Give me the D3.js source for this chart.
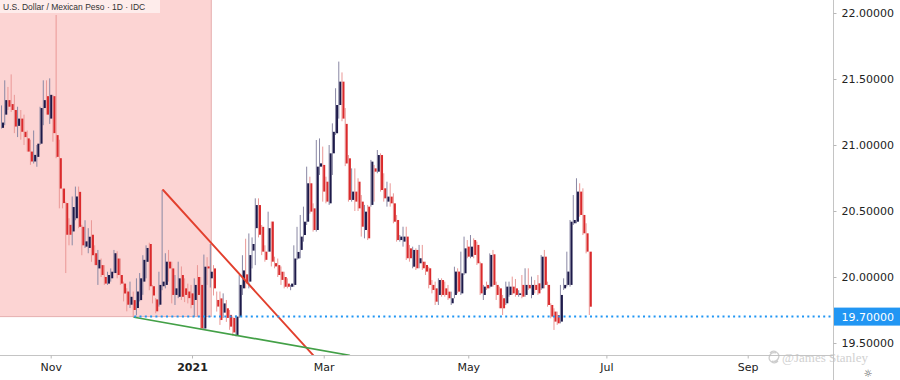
<!DOCTYPE html>
<html><head><meta charset="utf-8">
<script src="https://cdn.jsdelivr.net/npm/d3@7"></script>
<style>html,body{margin:0;padding:0;background:#fff;overflow:hidden}</style>
</head><body>
<svg id="c" width="900" height="380"></svg>
<script>
// ---------------- DATA ----------------
const title = "U.S. Dollar / Mexican Peso · 1D · IDC";
const firstDate = "2020-10-12";   // first daily bar (weekdays only)
const lastAxisDate = "2021-09-30";

const open = [21.13,21.23,21.34,21.31,21.265,21.145,21.20,21.10,21.05,20.95,
20.875,20.91,21.01,21.28,21.37,21.20,21.37,21.075,20.90,20.67,
20.56,20.395,20.345,20.445,20.645,20.38,20.23,20.22,20.32,20.18,
20.065,20.09,20.00,19.95,19.99,20.03,20.14,20.015,19.95,19.89,
19.79,19.825,19.765,19.825,19.965,20.115,20.25,19.93,19.83,19.79,
19.93,19.94,20.116,20.065,19.864,19.85,20.015,19.914,19.89,19.876,
19.826,20.00,19.94,19.61,20.08,19.99,20.065,19.826,19.838,19.73,
19.763,19.713,19.69,19.56,19.70,19.914,20.02,19.965,20.20,20.37,
20.545,20.38,20.192,20.192,20.42,20.105,20.09,20.04,20.00,19.95,
19.926,19.94,20.14,20.205,20.318,20.419,20.71,20.52,20.356,20.836,
20.849,20.722,20.558,20.937,21.089,21.303,21.48,21.16,20.899,20.584,
20.647,20.722,20.571,20.356,20.533,20.546,20.823,20.798,20.924,20.672,
20.571,20.609,20.558,20.432,20.28,20.268,20.306,20.217,20.078,20.205,
20.104,20.116,20.091,20.066,19.94,19.914,19.864,19.977,19.914,19.889,
19.801,19.864,20.041,19.876,20.028,20.23,20.154,20.28,20.243,20.104,
19.864,19.94,19.927,20.172,19.94,19.914,19.839,19.801,19.864,19.927,
19.914,19.864,19.94,19.864,19.94,19.864,19.94,19.952,19.914,20.154,
19.94,19.788,19.738,19.712,19.662,19.914,19.94,19.94,20.407,20.419,
20.647,20.47,20.331,20.192];
const high = [21.30,21.49,21.44,21.535,21.38,21.29,21.265,21.23,21.11,21.04,
21.11,21.00,21.29,21.49,21.49,21.505,21.38,21.985,21.04,20.67,
20.57,20.445,20.61,20.685,20.685,20.395,20.43,20.37,20.43,20.24,
20.205,20.14,20.09,20.04,20.065,20.205,20.195,20.14,19.965,19.915,
19.965,19.89,19.99,20.03,20.165,20.24,20.26,19.94,19.84,20.04,
20.659,20.18,20.205,20.116,20.015,20.116,20.08,19.99,19.95,19.94,
19.99,20.09,20.00,20.17,20.15,20.25,20.09,19.89,19.89,19.876,
19.826,19.75,19.70,19.71,20.015,20.165,20.29,20.33,20.30,20.596,
20.596,20.394,20.24,20.495,20.42,20.154,20.14,20.08,20.04,19.99,
19.94,20.24,20.38,20.47,20.533,20.836,20.76,20.558,21.038,21.05,
20.988,20.76,21.00,21.164,21.43,21.632,21.55,21.28,20.924,20.823,
20.823,20.748,20.621,20.546,20.546,20.887,20.849,20.962,20.937,20.786,
20.722,20.71,20.634,20.47,20.318,20.381,20.381,20.243,20.23,20.217,
20.243,20.243,20.116,20.078,19.977,19.965,19.99,19.99,19.965,19.94,
19.889,20.078,20.066,20.192,20.306,20.28,20.318,20.293,20.268,20.116,
19.94,19.965,20.179,20.205,19.965,19.927,19.864,19.965,19.965,20.003,
19.985,19.90,20.015,20.066,20.066,20.003,19.977,20.015,20.167,20.205,
19.965,19.801,19.763,19.738,19.94,19.99,20.192,20.432,20.621,20.748,
20.71,20.672,20.407,20.192];
const low = [21.125,21.15,21.265,21.25,21.09,21.06,21.04,21.00,20.95,20.85,
20.86,20.835,21.00,21.15,21.23,21.16,21.025,20.90,20.52,20.52,
20.03,20.24,20.24,20.43,20.37,20.165,20.22,20.18,20.115,20.09,
19.94,20.00,19.94,19.94,19.965,20.03,19.99,19.94,19.815,19.74,
19.765,19.695,19.71,19.815,19.865,19.99,19.90,19.80,19.725,19.776,
19.90,19.914,19.965,19.80,19.788,19.84,19.826,19.81,19.80,19.763,
19.70,19.70,19.60,19.60,19.94,19.92,19.86,19.738,19.637,19.69,
19.66,19.60,19.555,19.55,19.69,19.864,19.914,19.914,20.065,20.09,
20.30,20.166,20.116,20.192,20.08,20.066,20.00,19.94,19.914,19.914,
19.90,19.926,20.13,20.142,20.268,20.394,20.48,20.344,20.344,20.773,
20.571,20.558,20.546,20.773,21.076,21.20,21.18,20.84,20.571,20.571,
20.50,20.50,20.306,20.293,20.28,20.533,20.571,20.786,20.647,20.571,
20.533,20.533,20.407,20.268,20.268,20.23,20.129,20.116,20.066,20.053,
20.066,20.053,20.015,19.914,19.876,19.788,19.788,19.851,19.851,19.826,
19.788,19.839,19.876,19.864,20.015,20.142,20.142,20.142,20.091,19.864,
19.826,19.902,19.914,19.927,19.826,19.763,19.712,19.788,19.851,19.864,
19.851,19.85,19.839,19.851,19.902,19.839,19.876,19.864,19.902,19.914,
19.775,19.687,19.599,19.637,19.649,19.902,19.927,19.927,20.394,20.407,
20.457,20.318,20.179,19.712];
const close = [21.17,21.34,21.29,21.265,21.14,21.20,21.10,21.06,20.95,20.875,
20.925,21.01,21.28,21.34,21.23,21.38,21.09,20.91,20.67,20.56,
20.32,20.32,20.53,20.61,20.38,20.24,20.27,20.305,20.165,20.09,
20.13,20.015,19.95,20.015,20.04,20.18,20.015,19.95,19.875,19.79,
19.85,19.75,19.89,19.99,20.13,20.22,19.93,19.86,19.74,19.94,
19.965,20.116,20.065,19.864,19.914,19.99,19.85,19.864,19.84,19.788,
19.94,19.864,19.61,20.078,20.065,20.04,19.914,19.776,19.674,19.80,
19.69,19.624,19.58,19.70,19.94,20.05,19.952,20.166,20.25,20.545,
20.32,20.192,20.13,20.37,20.116,20.08,20.015,19.978,19.926,19.926,
19.95,20.14,20.19,20.306,20.419,20.71,20.495,20.356,20.836,20.861,
20.647,20.571,20.937,21.10,21.303,21.48,21.20,20.86,20.584,20.647,
20.571,20.52,20.381,20.495,20.293,20.874,20.798,20.924,20.659,20.596,
20.609,20.558,20.419,20.28,20.306,20.306,20.142,20.142,20.205,20.066,
20.142,20.066,20.041,19.94,19.902,19.813,19.977,19.864,19.864,19.839,
19.839,20.041,19.889,20.028,20.217,20.154,20.23,20.167,20.104,19.876,
19.927,19.914,20.167,19.94,19.864,19.763,19.763,19.927,19.927,19.876,
19.864,19.876,19.851,19.94,19.914,19.94,19.902,19.876,20.154,19.94,
19.788,19.70,19.662,19.649,19.864,19.94,20.041,20.419,20.432,20.647,
20.47,20.331,20.192,19.775];

const tickDates  = ["2020-11-02","2021-01-01","2021-03-01","2021-05-03","2021-07-01","2021-09-01"];
const tickLabels = ["Nov","2021","Mar","May","Jul","Sep"];
const boldTicks  = ["2021"];
const priceTicks = [19.5, 20.0, 20.5, 21.0, 21.5, 22.0];
const supportLevel = 19.70;
const supportStart = "2020-12-08";
const shadeEnd = "2021-01-11";
const redTrend   = [["2020-12-21", 20.659], ["2021-02-24", 19.40]];
const greenTrend = [["2020-12-08", 19.695], ["2021-03-11", 19.407]];
const watermark = "@James Stanley";

// ---------------- LAYOUT ----------------
const W = 900, H = 380, plotR = 833, plotB = 355;
const fmt = d3.timeFormat("%Y-%m-%d");
const parse = d3.timeParse("%Y-%m-%d");
const days = d3.timeDay.range(parse(firstDate), d3.timeDay.offset(parse(lastAxisDate), 1))
  .filter(d => d.getDay() !== 0 && d.getDay() !== 6);
const idx = new Map(days.map((d, i) => [fmt(d), i]));
const step = 3.212, x0 = 2.52;
const x = d3.scaleLinear().domain([0, days.length - 1]).range([x0, x0 + (days.length - 1) * step]);
const y = d3.scaleLinear().domain([19.5, 22]).range([343, 13]);
const n = close.length;

const svg = d3.select("#c");
svg.append("rect").attr("width", W).attr("height", H).attr("fill", "#fff");
svg.append("defs").append("clipPath").attr("id", "plot")
  .append("rect").attr("x", 0).attr("y", 0).attr("width", plotR).attr("height", plotB);
const plot = svg.append("g").attr("clip-path", "url(#plot)");

// shaded zone
plot.append("rect")
  .attr("x", -5).attr("y", -5)
  .attr("width", x(idx.get(shadeEnd)) + 5)
  .attr("height", y(supportLevel) + 5)
  .attr("fill", "#fcd4d3").attr("stroke", "#e6b0b0").attr("stroke-width", 1);

// candles
const upBody = "#1d1a4a", upWick = "#8a88a4", dnBody = "#da2a2c", dnWick = "#ea9896";
const bars = d3.range(n);
plot.append("g").selectAll("rect").data(bars).join("rect")
  .attr("x", i => x(i) - 1.5).attr("width", 1)
  .attr("y", i => y(high[i]))
  .attr("height", i => Math.max(1, y(low[i]) - y(high[i])))
  .attr("fill", i => close[i] >= open[i] ? upWick : dnWick);
plot.append("g").selectAll("rect").data(bars).join("rect")
  .attr("x", i => x(i) - 0.5).attr("width", 2)
  .attr("y", i => y(Math.max(open[i], close[i])))
  .attr("height", i => Math.max(1, Math.abs(y(open[i]) - y(close[i]))))
  .attr("fill", i => close[i] >= open[i] ? upBody : dnBody);

// trend lines
function trend(pts, color, w) {
  plot.append("line")
    .attr("x1", x(idx.get(pts[0][0]))).attr("y1", y(pts[0][1]))
    .attr("x2", x(idx.get(pts[1][0]))).attr("y2", y(pts[1][1]))
    .attr("stroke", color).attr("stroke-width", w).attr("stroke-linecap", "round");
}
trend(redTrend, "#e2402e", 1.9);
trend(greenTrend, "#43a047", 1.7);

// support line
plot.append("line")
  .attr("x1", x(idx.get(supportStart))).attr("x2", plotR)
  .attr("y1", y(supportLevel)).attr("y2", y(supportLevel))
  .attr("stroke", "#2196f3").attr("stroke-width", 2).attr("stroke-dasharray", "2,3.3");

// title box
svg.append("rect").attr("x", 0).attr("y", 0).attr("width", 160).attr("height", 13)
  .attr("fill", "#fff").attr("fill-opacity", 0.55);
svg.append("text").attr("x", 3).attr("y", 9.5).text(title)
  .attr("font-family", "Liberation Sans, Arial, sans-serif").attr("font-size", 8.5).attr("fill", "#333");

// axes lines
svg.append("line").attr("x1", 0).attr("x2", plotR).attr("y1", plotB + 0.5).attr("y2", plotB + 0.5)
  .attr("stroke", "#c4c4c4");
svg.append("line").attr("x1", plotR + 0.5).attr("x2", plotR + 0.5).attr("y1", 0).attr("y2", H)
  .attr("stroke", "#c4c4c4");

// bottom axis
const xAxis = d3.axisBottom(x)
  .tickValues(tickDates.map(d => idx.get(d)))
  .tickFormat((d, i) => tickLabels[i])
  .tickSize(3).tickPadding(5);
const gx = svg.append("g").attr("transform", `translate(0,${plotB + 0.5})`).call(xAxis);
gx.select(".domain").remove();
gx.selectAll(".tick line").attr("stroke", "#b8b8b8");
gx.selectAll(".tick text")
  .attr("font-family", "DejaVu Sans, sans-serif").attr("font-size", 11).attr("fill", "#222")
  .attr("font-weight", (d, i) => boldTicks.includes(tickLabels[i]) ? "bold" : "normal");

// right axis
const yAxis = d3.axisRight(y).tickValues(priceTicks).tickFormat(d3.format(".5f"))
  .tickSize(3).tickPadding(5);
const gy = svg.append("g").attr("transform", `translate(${plotR + 0.5},0)`).call(yAxis);
gy.select(".domain").remove();
gy.selectAll(".tick line").attr("stroke", "#b8b8b8");
gy.selectAll(".tick text")
  .attr("font-family", "DejaVu Sans, sans-serif").attr("font-size", 11).attr("fill", "#222");

// support price label
const ly = y(supportLevel);
svg.append("rect").attr("x", plotR + 1).attr("y", ly - 9).attr("width", W - plotR - 1).attr("height", 18)
  .attr("fill", "#2196f3");
svg.append("text").attr("x", plotR + 8.5).attr("y", ly + 4).text(d3.format(".5f")(supportLevel))
  .attr("font-family", "DejaVu Sans, sans-serif").attr("font-size", 11).attr("fill", "#fff");

// watermark
const wm = svg.append("g").attr("opacity", 0.75);
wm.append("path").attr("d", "M770,353 a5,5 0 1,1 2,8 M778,361 a5,5 0 1,1 -2,-8")
  .attr("fill", "none").attr("stroke", "#bdbdbd").attr("stroke-width", 1.3);
wm.append("text").attr("x", 782).attr("y", 362).text(watermark)
  .attr("font-family", "Liberation Serif, serif").attr("font-size", 13).attr("fill", "#c2c2c2");

// settings icon
svg.append("text").attr("x", 868).attr("y", 377).attr("text-anchor", "middle").text("☼")
  .attr("font-family", "DejaVu Sans, sans-serif").attr("font-size", 10).attr("fill", "#555");
</script>
</body></html>
